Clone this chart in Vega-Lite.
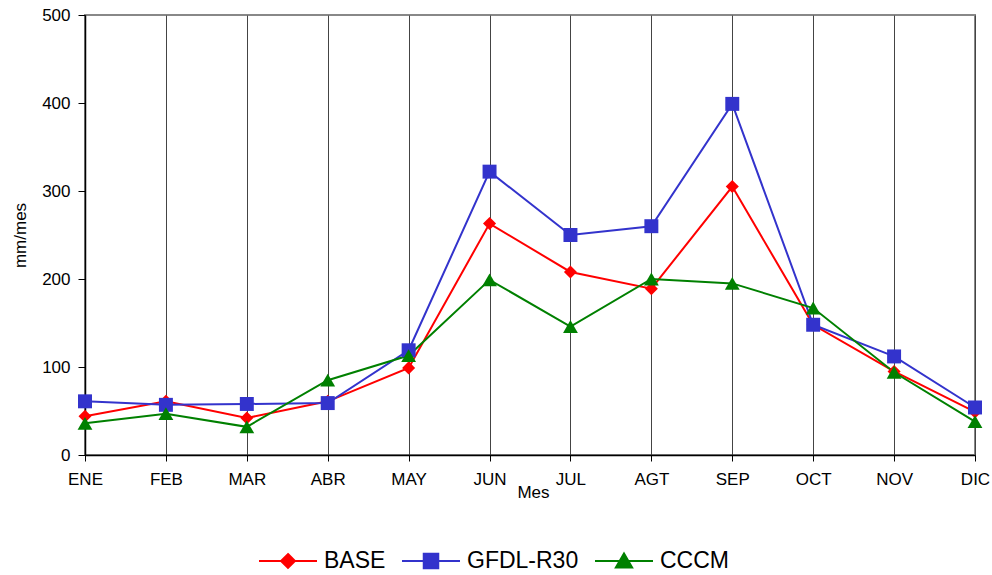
{
  "$schema": "https://vega.github.io/schema/vega-lite/v6.json",
  "autosize": {"type": "none"},
  "width": 890,
  "height": 440,
  "padding": {"left": 85, "top": 15, "right": 17, "bottom": 120},
  "background": "white",
  "config": {
    "font": "Liberation Sans",
    "view": {"stroke": "#888888", "strokeWidth": 2},
    "legend": {
      "title": null,
      "orient": "none",
      "direction": "horizontal",
      "legendX": 173,
      "legendY": 516,
      "labelFontSize": 23,
      "labelColor": "black",
      "labelOffset": 6,
      "columnPadding": 12,
      "symbolSize": 3364,
      "symbolStrokeWidth": 2
    }
  },
  "data": {
    "values": [
      {"mes": "ENE", "serie": "BASE", "v": 44},
      {"mes": "FEB", "serie": "BASE", "v": 61},
      {"mes": "MAR", "serie": "BASE", "v": 42},
      {"mes": "ABR", "serie": "BASE", "v": 61},
      {"mes": "MAY", "serie": "BASE", "v": 99},
      {"mes": "JUN", "serie": "BASE", "v": 263},
      {"mes": "JUL", "serie": "BASE", "v": 208},
      {"mes": "AGT", "serie": "BASE", "v": 189},
      {"mes": "SEP", "serie": "BASE", "v": 305},
      {"mes": "OCT", "serie": "BASE", "v": 148},
      {"mes": "NOV", "serie": "BASE", "v": 95},
      {"mes": "DIC", "serie": "BASE", "v": 49},
      {"mes": "ENE", "serie": "GFDL-R30", "v": 61},
      {"mes": "FEB", "serie": "GFDL-R30", "v": 57},
      {"mes": "MAR", "serie": "GFDL-R30", "v": 58},
      {"mes": "ABR", "serie": "GFDL-R30", "v": 59},
      {"mes": "MAY", "serie": "GFDL-R30", "v": 119},
      {"mes": "JUN", "serie": "GFDL-R30", "v": 322},
      {"mes": "JUL", "serie": "GFDL-R30", "v": 250},
      {"mes": "AGT", "serie": "GFDL-R30", "v": 260},
      {"mes": "SEP", "serie": "GFDL-R30", "v": 399},
      {"mes": "OCT", "serie": "GFDL-R30", "v": 148},
      {"mes": "NOV", "serie": "GFDL-R30", "v": 112},
      {"mes": "DIC", "serie": "GFDL-R30", "v": 54},
      {"mes": "ENE", "serie": "CCCM", "v": 36},
      {"mes": "FEB", "serie": "CCCM", "v": 47},
      {"mes": "MAR", "serie": "CCCM", "v": 32},
      {"mes": "ABR", "serie": "CCCM", "v": 85},
      {"mes": "MAY", "serie": "CCCM", "v": 113},
      {"mes": "JUN", "serie": "CCCM", "v": 199},
      {"mes": "JUL", "serie": "CCCM", "v": 146},
      {"mes": "AGT", "serie": "CCCM", "v": 200},
      {"mes": "SEP", "serie": "CCCM", "v": 195},
      {"mes": "OCT", "serie": "CCCM", "v": 167},
      {"mes": "NOV", "serie": "CCCM", "v": 94},
      {"mes": "DIC", "serie": "CCCM", "v": 38}
    ]
  },
  "encoding": {
    "x": {
      "field": "mes", "type": "ordinal",
      "sort": ["ENE","FEB","MAR","ABR","MAY","JUN","JUL","AGT","SEP","OCT","NOV","DIC"],
      "scale": {"type": "point", "padding": 0},
      "axis": {
        "title": "Mes", "titleFont": "Liberation Sans", "titleFontSize": 17, "titleFontWeight": "normal", "titleColor": "black",
        "titleX": 448, "titleY": 29, "titleBaseline": "top",
        "labelAngle": 0, "labelFontSize": 17, "labelColor": "black", "labelPadding": 10,
        "tickSize": 6, "tickColor": "black", "domainColor": "black", "domainWidth": 1.5,
        "grid": true, "gridColor": "#444444", "gridWidth": 1
      }
    },
    "y": {
      "field": "v", "type": "quantitative",
      "scale": {"domain": [0, 500], "nice": false},
      "axis": {
        "title": "mm/mes", "titleFontSize": 17, "titleFontWeight": "normal", "titleColor": "black", "titlePadding": 12,
        "values": [0, 100, 200, 300, 400, 500],
        "labelFontSize": 17, "labelColor": "black", "labelPadding": 8,
        "tickSize": 7, "tickColor": "black", "domainColor": "black", "domainWidth": 1.5,
        "grid": false
      }
    }
  },
  "layer": [
    {
      "mark": {"type": "line", "strokeWidth": 2},
      "encoding": {
        "color": {
          "field": "serie", "type": "nominal",
          "scale": {"domain": ["BASE", "GFDL-R30", "CCCM"], "range": ["#FF0000", "#3333CC", "#008000"]},
          "legend": null
        }
      }
    },
    {
      "mark": {"type": "point", "filled": true, "opacity": 1},
      "encoding": {
        "color": {
          "field": "serie", "type": "nominal",
          "scale": {"domain": ["BASE", "GFDL-R30", "CCCM"], "range": ["#FF0000", "#3333CC", "#008000"]},
          "legend": null
        },
        "shape": {
          "field": "serie", "type": "nominal",
          "scale": {"domain": ["BASE", "GFDL-R30", "CCCM"], "range": ["diamond", "square", "triangle-up"]},
          "legend": null
        },
        "size": {
          "field": "serie", "type": "nominal",
          "scale": {"domain": ["BASE", "GFDL-R30", "CCCM"], "range": [170, 220, 210]},
          "legend": null
        }
      }
    },
    {
      "transform": [{"filter": "datum.v < 0"}],
      "mark": {"type": "point", "filled": true, "opacity": 1, "strokeWidth": 2},
      "encoding": {
        "color": {
          "field": "serie", "type": "nominal",
          "scale": {"domain": ["BASE", "GFDL-R30", "CCCM"], "range": ["#FF0000", "#3333CC", "#008000"]},
          "legend": {}
        },
        "stroke": {
          "field": "serie", "type": "nominal",
          "scale": {"domain": ["BASE", "GFDL-R30", "CCCM"], "range": ["#FF0000", "#3333CC", "#008000"]},
          "legend": {}
        },
        "shape": {
          "field": "serie", "type": "nominal",
          "scale": {"domain": ["BASE", "GFDL-R30", "CCCM"], "range": [
            "M-1,0L1,0M0,-0.24L0.24,0L0,0.24L-0.24,0Z",
            "M-1,0L1,0M-0.25,-0.25L0.25,-0.25L0.25,0.25L-0.25,0.25Z",
            "M-1,0L1,0M0,-0.26L0.28,0.22L-0.28,0.22Z"
          ]},
          "legend": {}
        }
      }
    }
  ],
  "resolve": {
    "scale": {"color": "independent", "stroke": "independent", "shape": "independent", "size": "independent"},
    "legend": {"color": "independent", "stroke": "independent", "shape": "independent"}
  }
}
